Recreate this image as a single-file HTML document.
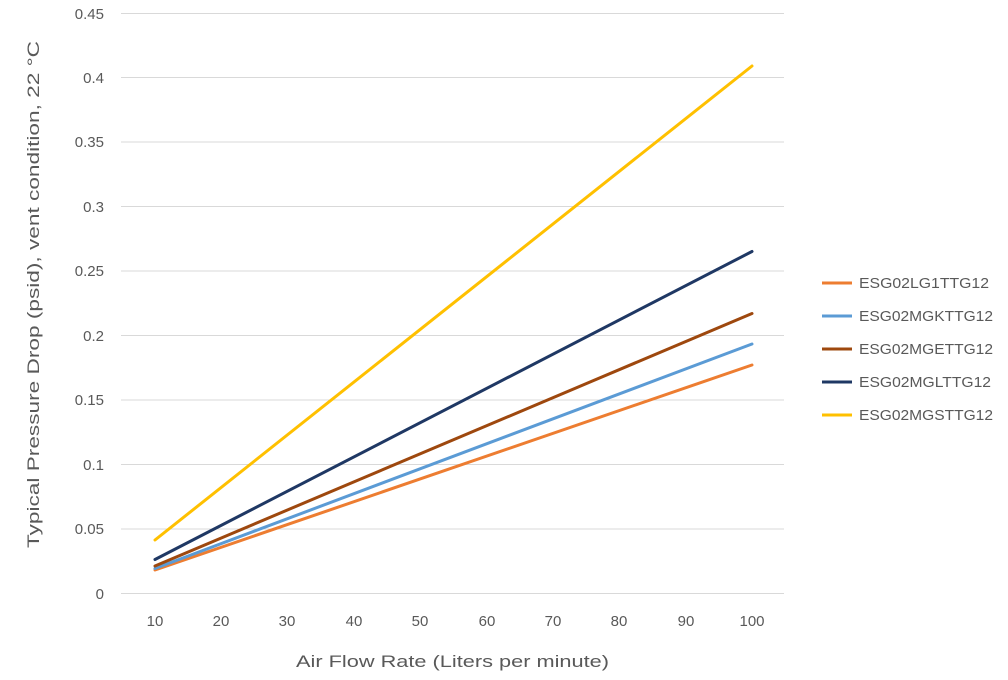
<!DOCTYPE html>
<html><head><meta charset="utf-8"><style>body{margin:0;background:#fff}svg{display:block}text{font-family:"Liberation Sans",sans-serif;fill:#595959}</style></head><body>
<svg width="1008" height="680" viewBox="0 0 1008 680">
<g stroke="#d9d9d9" stroke-width="1">
<line x1="121" x2="784" y1="13.5" y2="13.5"/><line x1="121" x2="784" y1="77.5" y2="77.5"/><line x1="121" x2="784" y1="142" y2="142"/><line x1="121" x2="784" y1="206.5" y2="206.5"/><line x1="121" x2="784" y1="271" y2="271"/><line x1="121" x2="784" y1="335.5" y2="335.5"/><line x1="121" x2="784" y1="400" y2="400"/><line x1="121" x2="784" y1="464.5" y2="464.5"/><line x1="121" x2="784" y1="529" y2="529"/><line x1="121" x2="784" y1="593.5" y2="593.5"/>
</g>
<g font-size="15" text-anchor="end">
<text x="104" y="19">0.45</text><text x="104" y="83">0.4</text><text x="104" y="147">0.35</text><text x="104" y="212">0.3</text><text x="104" y="276">0.25</text><text x="104" y="341">0.2</text><text x="104" y="405">0.15</text><text x="104" y="470">0.1</text><text x="104" y="534">0.05</text><text x="104" y="599">0</text>
</g>
<g font-size="15" text-anchor="middle">
<text x="155" y="626">10</text><text x="221" y="626">20</text><text x="287" y="626">30</text><text x="354" y="626">40</text><text x="420" y="626">50</text><text x="487" y="626">60</text><text x="553" y="626">70</text><text x="619" y="626">80</text><text x="686" y="626">90</text><text x="752" y="626">100</text>
</g>
<text x="296" y="667" font-size="17" textLength="313" lengthAdjust="spacingAndGlyphs">Air Flow Rate (Liters per minute)</text>
<text transform="translate(39,548) rotate(-90)" font-size="17" textLength="507" lengthAdjust="spacingAndGlyphs">Typical Pressure Drop (psid), vent condition, 22 °C</text>
<g stroke-width="3" stroke-linecap="round">
<line x1="155" y1="570" x2="752" y2="365" stroke="#ed7d31"/>
<line x1="155" y1="568.5" x2="752" y2="344" stroke="#5b9bd5"/>
<line x1="155" y1="566" x2="752" y2="313.5" stroke="#9e480e"/>
<line x1="155" y1="559.5" x2="752" y2="251.5" stroke="#1f3864"/>
<line x1="155" y1="540" x2="752" y2="66" stroke="#ffc000"/>
</g>
<g stroke-width="3">
<line x1="822" x2="852" y1="283" y2="283" stroke="#ed7d31"/>
<line x1="822" x2="852" y1="316" y2="316" stroke="#5b9bd5"/>
<line x1="822" x2="852" y1="349" y2="349" stroke="#9e480e"/>
<line x1="822" x2="852" y1="382" y2="382" stroke="#1f3864"/>
<line x1="822" x2="852" y1="415" y2="415" stroke="#ffc000"/>
</g>
<g font-size="15">
<text x="859" y="288" textLength="130" lengthAdjust="spacingAndGlyphs">ESG02LG1TTG12</text><text x="859" y="321" textLength="134" lengthAdjust="spacingAndGlyphs">ESG02MGKTTG12</text><text x="859" y="354" textLength="134" lengthAdjust="spacingAndGlyphs">ESG02MGETTG12</text><text x="859" y="387" textLength="132" lengthAdjust="spacingAndGlyphs">ESG02MGLTTG12</text><text x="859" y="420" textLength="134" lengthAdjust="spacingAndGlyphs">ESG02MGSTTG12</text>
</g>
</svg></body></html>
